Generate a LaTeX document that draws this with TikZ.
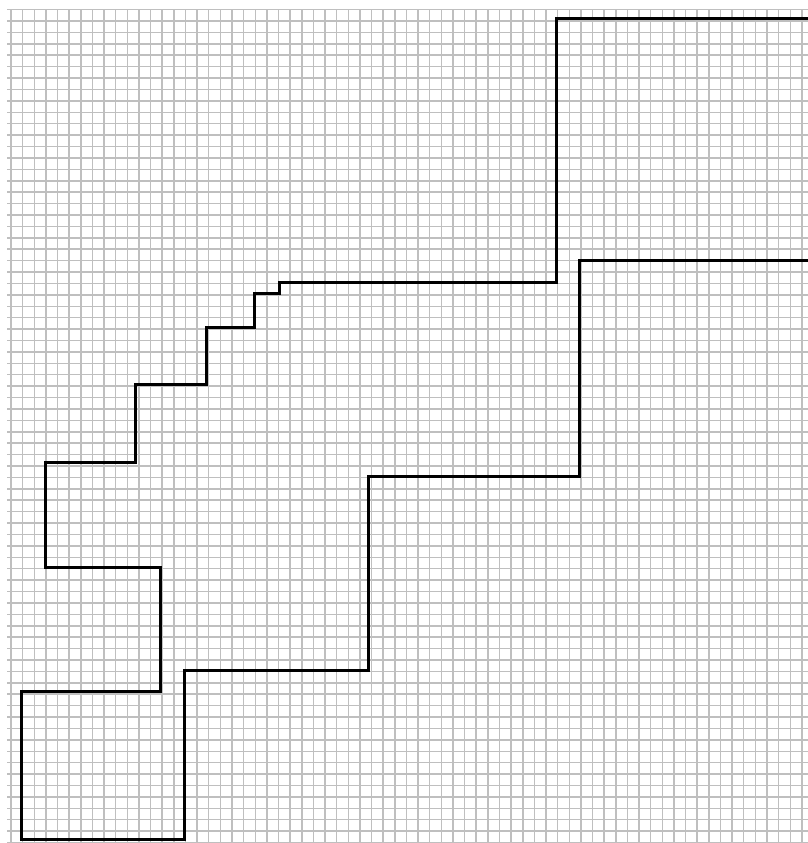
\documentclass[tikz,border=0pt]{standalone}
\begin{document}
\begin{tikzpicture}[x=1pt,y=-1pt]
  \useasboundingbox (0,0) rectangle (808,843);
  % quadrillage
  \begin{scope}
    \clip (7,10) rectangle (808,843);
    \draw[gray!50,line width=1.5pt,xstep=11.63pt,ystep=11.41pt,xshift=-0.6pt,yshift=1.8pt] (-20,-20) grid (830,860);
  \end{scope}
  \draw[line width=3pt] (808,19)--(556,19)--(556,282)--(279,282)--(279,293)--(254,293)--(254,327)--(206,327)--(206,384)--(135,384)--(135,462)--(45,462)--(45,567)--(160,567)--(160,691)--(21,691)--(21,839)--(184,839)--(184,670)--(368,670)--(368,476)--(579,476)--(579,260)--(808,260);
\end{tikzpicture}
\end{document}
